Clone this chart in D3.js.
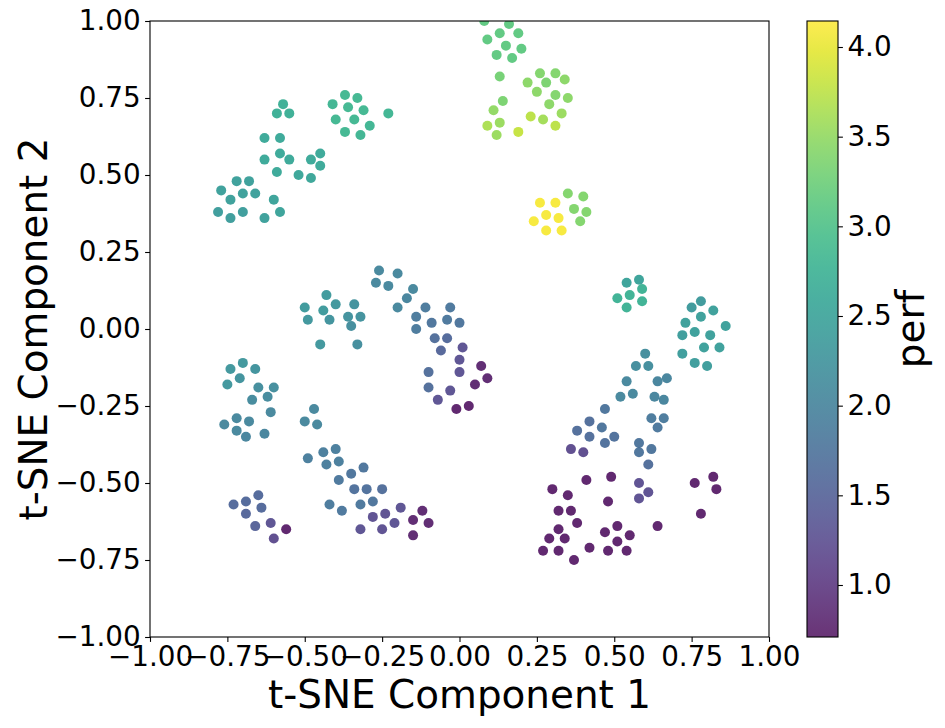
<!DOCTYPE html>
<html>
<head>
<meta charset="utf-8">
<script src="https://cdn.jsdelivr.net/npm/d3@7"></script>
<style>
  body { margin: 0; background: #fff; }
  svg text { font-family: "DejaVu Sans", sans-serif; fill: #000; }
</style>
</head>
<body>
<svg id="chart"></svg>
<script>
const width = 945, height = 728;

// t-SNE coordinates
const tsne1 = [
  -0.57, -0.59, -0.55,
  -0.37, -0.33, -0.41, -0.36, -0.31, -0.23, -0.40, -0.34, -0.29, -0.37, -0.32,
  -0.63, -0.58, -0.58, -0.63, -0.55, -0.45, -0.48, -0.45, -0.59, -0.52, -0.48,
  -0.72, -0.68, -0.77, -0.70, -0.66, -0.74, -0.60, -0.78, -0.70, -0.74, -0.63, -0.58,
  0.08, 0.16, 0.13, 0.19, 0.09, 0.15, 0.20, 0.12, 0.17,
  0.13, 0.26, 0.31, 0.22, 0.28, 0.34, 0.25, 0.31, 0.35, 0.29, 0.14, 0.11, 0.13, 0.09, 0.12, 0.23, 0.27, 0.33, 0.31, 0.19,
  0.26, 0.31, 0.28, 0.32, 0.24, 0.28, 0.33,
  0.35, 0.40, 0.37, 0.41, 0.39,
  -0.26, -0.20, -0.27, -0.23, -0.15, -0.17, -0.20, -0.11, -0.03, -0.14, -0.04, -0.09, 0.00, -0.14,
  -0.08, -0.04, 0.01, -0.06, 0.00, 0.07, 0.00, 0.09, -0.10, 0.05, -0.10, -0.03, -0.07, 0.03, -0.01,
  -0.43, -0.50, -0.40, -0.44, -0.34, -0.49, -0.42, -0.36, -0.32, -0.35, -0.45, -0.33,
  -0.70, -0.74, -0.66, -0.71, -0.75, -0.65, -0.60, -0.67, -0.62, -0.61, -0.72, -0.76, -0.68, -0.72, -0.69, -0.63,
  -0.47, -0.50, -0.46, -0.44, -0.40, -0.49, -0.43, -0.39, -0.35, -0.31, -0.39, -0.34, -0.30, -0.25,
  -0.42, -0.38, -0.32, -0.28, -0.19, -0.24, -0.28, -0.21, -0.25, -0.32, -0.12, -0.15, -0.10, -0.15,
  -0.65, -0.73, -0.69, -0.64, -0.69, -0.66, -0.61, -0.60, -0.56,
  0.54, 0.58, 0.59, 0.51, 0.55, 0.59, 0.54,
  0.75, 0.78, 0.82, 0.78, 0.73, 0.86, 0.76, 0.72, 0.81, 0.79, 0.84, 0.72, 0.76, 0.80,
  0.60, 0.57, 0.61, 0.64, 0.67, 0.54, 0.56, 0.52, 0.63, 0.66, 0.47, 0.62, 0.66, 0.42, 0.64, 0.38,
  0.46, 0.50, 0.42, 0.47, 0.58, 0.62, 0.58, 0.61, 0.36, 0.40,
  0.58, 0.61, 0.58, 0.30, 0.35, 0.41, 0.49, 0.48, 0.32, 0.36, 0.38, 0.32, 0.29, 0.34, 0.27,
  0.32, 0.37, 0.42, 0.47, 0.51, 0.55, 0.51, 0.48, 0.54, 0.64, 0.76, 0.82, 0.83, 0.78
];
const tsne2 = [
  0.73, 0.70, 0.70,
  0.76, 0.75, 0.73, 0.72, 0.71, 0.70, 0.68, 0.68, 0.66, 0.64, 0.63,
  0.62, 0.62, 0.57, 0.55, 0.55, 0.57, 0.55, 0.53, 0.51, 0.50, 0.49,
  0.48, 0.48, 0.45, 0.44, 0.44, 0.42, 0.42, 0.38, 0.38, 0.36, 0.36, 0.38,
  1.00, 0.99, 0.96, 0.96, 0.94, 0.92, 0.91, 0.89, 0.88,
  0.82, 0.83, 0.83, 0.80, 0.80, 0.81, 0.77, 0.76, 0.75, 0.73, 0.74, 0.71, 0.67, 0.66, 0.63, 0.69, 0.68, 0.70, 0.66, 0.64,
  0.41, 0.41, 0.37, 0.36, 0.35, 0.32, 0.32,
  0.44, 0.43, 0.39, 0.38, 0.35,
  0.19, 0.18, 0.15, 0.14, 0.13, 0.10, 0.07, 0.07, 0.07, 0.04, 0.03, 0.02, 0.02, 0.00,
  -0.03, -0.03, -0.06, -0.07, -0.10, -0.12, -0.14, -0.16, -0.14, -0.18, -0.19, -0.20, -0.23, -0.25, -0.26,
  0.11, 0.07, 0.08, 0.06, 0.08, 0.03, 0.03, 0.04, 0.04, 0.01, -0.05, -0.05,
  -0.11, -0.13, -0.13, -0.16, -0.18, -0.19, -0.19, -0.23, -0.22, -0.27, -0.29, -0.31, -0.30, -0.33, -0.35, -0.34,
  -0.26, -0.30, -0.31, -0.40, -0.39, -0.42, -0.44, -0.43, -0.47, -0.45, -0.49, -0.52, -0.52, -0.52,
  -0.57, -0.59, -0.57, -0.56, -0.58, -0.60, -0.61, -0.63, -0.65, -0.65, -0.59, -0.62, -0.63, -0.67,
  -0.54, -0.57, -0.56, -0.58, -0.60, -0.64, -0.63, -0.68, -0.65,
  0.15, 0.16, 0.13, 0.10, 0.11, 0.09, 0.07,
  0.07, 0.09, 0.06, 0.04, 0.02, 0.01, -0.01, -0.02, -0.02, -0.06, -0.06, -0.08, -0.11, -0.12,
  -0.08, -0.12, -0.12, -0.17, -0.16, -0.17, -0.21, -0.22, -0.22, -0.23, -0.26, -0.29, -0.29, -0.30, -0.32, -0.33,
  -0.32, -0.35, -0.35, -0.37, -0.37, -0.39, -0.40, -0.44, -0.39, -0.40,
  -0.50, -0.53, -0.55, -0.52, -0.54, -0.49, -0.48, -0.56, -0.59, -0.59, -0.63, -0.65, -0.68, -0.68, -0.72,
  -0.72, -0.75, -0.71, -0.66, -0.64, -0.67, -0.69, -0.72, -0.72, -0.64, -0.50, -0.48, -0.52, -0.60
];
const perf = [
  2.7, 2.7, 2.7,
  2.85, 2.85, 2.8, 2.85, 2.85, 2.8, 2.85, 2.85, 2.8, 2.85, 2.8,
  2.6, 2.6, 2.6, 2.6, 2.6, 2.6, 2.6, 2.6, 2.6, 2.55, 2.55,
  2.45, 2.45, 2.45, 2.45, 2.45, 2.45, 2.5, 2.4, 2.4, 2.4, 2.45, 2.5,
  3.15, 3.15, 3.15, 3.15, 3.15, 3.15, 3.15, 3.15, 3.15,
  3.3, 3.4, 3.4, 3.45, 3.35, 3.45, 3.45, 3.4, 3.45, 3.45, 3.35, 3.5, 3.55, 3.65, 3.55, 3.75, 3.6, 3.55, 3.75, 3.8,
  4.1, 4.1, 4.1, 4.1, 4.1, 4.1, 4.1,
  3.4, 3.4, 3.4, 3.4, 3.4,
  2.05, 2.05, 2.05, 2.05, 2.05, 2.0, 2.05, 1.85, 1.8, 1.85, 1.8, 1.75, 1.75, 1.85,
  1.65, 1.6, 1.3, 1.55, 1.3, 0.8, 1.3, 0.8, 1.65, 0.8, 1.65, 1.3, 1.3, 0.75, 0.75,
  2.35, 2.35, 2.3, 2.35, 2.2, 2.3, 2.25, 2.2, 2.2, 2.15, 2.3, 2.15,
  2.3, 2.3, 2.25, 2.25, 2.3, 2.15, 2.15, 2.1, 2.1, 2.05, 2.05, 2.05, 2.05, 2.05, 2.0, 2.0,
  2.05, 2.05, 2.05, 1.9, 1.9, 1.9, 1.9, 1.9, 1.75, 1.75, 1.8, 1.7, 1.7, 1.65,
  1.85, 1.8, 1.8, 1.75, 1.3, 1.25, 1.25, 1.3, 1.25, 1.3, 0.8, 0.8, 0.8, 0.8,
  1.6, 1.6, 1.6, 1.6, 1.55, 1.5, 1.3, 1.2, 0.75,
  2.5, 2.5, 2.75, 2.75, 2.75, 2.75, 2.75,
  2.35, 2.35, 2.45, 2.45, 2.45, 2.45, 2.45, 2.4, 2.45, 2.45, 2.45, 2.4, 2.4, 2.4,
  2.15, 2.15, 2.15, 2.0, 2.0, 2.05, 2.05, 2.05, 2.0, 2.0, 1.75, 1.85, 1.85, 1.65, 1.8, 1.65,
  1.75, 1.7, 1.65, 1.7, 1.75, 1.75, 1.75, 1.65, 1.2, 1.2,
  1.25, 1.25, 1.25, 0.75, 0.75, 0.75, 0.75, 0.75, 0.75, 0.75, 0.75, 0.75, 0.75, 0.75, 0.75,
  0.75, 0.75, 0.75, 0.75, 0.75, 0.75, 0.75, 0.75, 0.75, 0.75, 0.75, 0.75, 0.75, 0.75
];

const axisTicks = [-1, -0.75, -0.5, -0.25, 0, 0.25, 0.5, 0.75, 1];
const perfTicks = [1.0, 1.5, 2.0, 2.5, 3.0, 3.5, 4.0];
const perfRange = [0.71, 4.145];

const margin = { top: 21, right: 176, bottom: 91, left: 150 };
const innerWidth = width - margin.left - margin.right;   // 619
const innerHeight = height - margin.top - margin.bottom; // 616

const data = tsne1.map((d, i) => ({ x: d, y: tsne2[i], perf: perf[i] }));

const svg = d3.select("#chart")
  .attr("width", width)
  .attr("height", height);

const xScale = d3.scaleLinear().domain([-1, 1]).range([0, innerWidth]);
const yScale = d3.scaleLinear().domain([-1, 1]).range([innerHeight, 0]);
const colour = d3.scaleSequential(d3.interpolateViridis).domain(perfRange);

const fmt = d => (d < 0 ? "\u2212" : "") + Math.abs(d).toFixed(2);
const tickFont = 27.8, labelFont = 38.9, tickLen = 4.9;

const g = svg.append("g")
  .attr("transform", `translate(${margin.left}, ${margin.top})`);

g.append("clipPath").attr("id", "plot-clip")
  .append("rect").attr("width", innerWidth).attr("height", innerHeight);

g.append("g")
  .attr("clip-path", "url(#plot-clip)")
  .selectAll("circle").data(data)
  .enter().append("circle")
    .attr("cx", d => xScale(d.x))
    .attr("cy", d => yScale(d.y))
    .attr("r", 5)
    .attr("fill", d => colour(d.perf))
    .attr("fill-opacity", 0.85);

g.append("rect")
  .attr("width", innerWidth).attr("height", innerHeight)
  .attr("fill", "none").attr("stroke", "#000").attr("stroke-width", 1.1);

const xAxis = g.append("g")
  .attr("transform", `translate(0, ${innerHeight})`)
  .call(d3.axisBottom(xScale).tickValues(axisTicks).tickFormat(fmt)
    .tickSizeOuter(0).tickSize(tickLen).tickPadding(4.5));
const yAxis = g.append("g")
  .call(d3.axisLeft(yScale).tickValues(axisTicks).tickFormat(fmt)
    .tickSizeOuter(0).tickSize(tickLen).tickPadding(4.5));

[xAxis, yAxis].forEach(ax => {
  ax.select(".domain").remove();
  ax.selectAll("line").attr("stroke", "#000").attr("stroke-width", 1.1);
  ax.selectAll("text").attr("font-size", tickFont).attr("font-family", "DejaVu Sans");
});

svg.append("text")
  .attr("x", margin.left + innerWidth / 2)
  .attr("y", 708)
  .attr("text-anchor", "middle")
  .attr("font-size", labelFont)
  .text("t-SNE Component 1");

svg.append("text")
  .attr("transform", `translate(47, ${margin.top + innerHeight / 2}) rotate(-90)`)
  .attr("text-anchor", "middle")
  .attr("font-size", labelFont)
  .text("t-SNE Component 2");

// colour bar
const cbX = 807, cbW = 31;
const cbScale = d3.scaleLinear().domain(perfRange).range([margin.top + innerHeight, margin.top]);

const grad = svg.append("defs").append("linearGradient")
  .attr("id", "viridis").attr("x1", 0).attr("y1", 1).attr("x2", 0).attr("y2", 0);
d3.range(0, 1.0001, 0.05).forEach(t => {
  grad.append("stop").attr("offset", t).attr("stop-color", d3.interpolateViridis(t));
});

svg.append("rect")
  .attr("x", cbX).attr("y", margin.top)
  .attr("width", cbW).attr("height", innerHeight)
  .attr("fill", "url(#viridis)").attr("fill-opacity", 0.8);
svg.append("rect")
  .attr("x", cbX).attr("y", margin.top)
  .attr("width", cbW).attr("height", innerHeight)
  .attr("fill", "none").attr("stroke", "#000").attr("stroke-width", 1.1);

const cbAxis = svg.append("g")
  .attr("transform", `translate(${cbX + cbW}, 0)`)
  .call(d3.axisRight(cbScale).tickValues(perfTicks).tickFormat(d3.format(".1f"))
    .tickSizeOuter(0).tickSize(tickLen).tickPadding(4.5));
cbAxis.select(".domain").remove();
cbAxis.selectAll("line").attr("stroke", "#000").attr("stroke-width", 1.1);
cbAxis.selectAll("text").attr("font-size", tickFont).attr("font-family", "DejaVu Sans");

svg.append("text")
  .attr("transform", `translate(924, ${margin.top + innerHeight / 2}) rotate(-90)`)
  .attr("text-anchor", "middle")
  .attr("font-size", labelFont)
  .text("perf");
</script>
</body>
</html>
